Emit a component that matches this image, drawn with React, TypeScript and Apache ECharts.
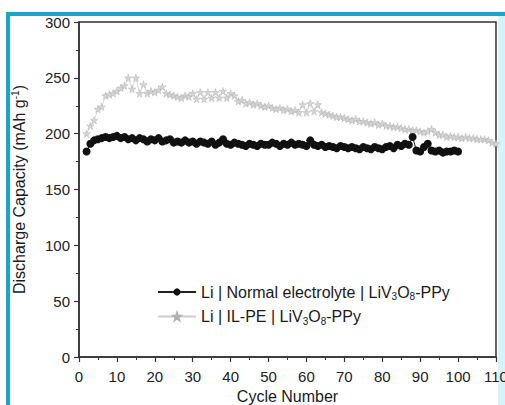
import React, { useEffect, useRef } from "react";
import * as echarts from "echarts";

const normalCycles: number[] = Array.from({ length: 99 }, (_, i) => i + 2);
const normalCapacity: number[] = [
  184, 191, 194, 195, 196, 197, 196, 197, 198, 196,
  197, 195, 196, 194, 196, 195, 193, 195, 194, 196,
  193, 194, 195, 192, 193, 192, 194, 192, 193, 191,
  193, 192, 191, 193, 190, 192, 195, 191, 190, 192,
  191, 190, 189, 191, 190, 189, 191, 190, 190, 192,
  191, 189, 191, 190, 192, 190, 191, 190, 189, 194,
  190, 189, 190, 188, 189, 188, 187, 189, 188, 187,
  188, 187, 186, 188, 187, 186, 188, 187, 186, 188,
  189, 187, 190, 189, 191, 190, 197, 185, 184, 188,
  191, 185, 184, 185, 183, 184, 184, 185, 184,
];

const ilCycles: number[] = Array.from({ length: 109 }, (_, i) => i + 2);
const ilCapacity: number[] = [
  200, 207, 212, 222, 224, 234, 235, 236, 238, 241,
  243, 250, 240, 250, 236, 244, 236, 238, 237, 239,
  242, 236, 235, 234, 233, 232, 234, 233, 236, 231,
  237, 231, 237, 232, 237, 232, 238, 232, 236, 234,
  229, 230, 227, 228, 226, 227, 225, 224, 225, 223,
  222, 223, 221, 222, 220, 221, 219, 226, 219, 227,
  220, 226, 219, 218, 217, 216, 215, 215, 214, 213,
  212, 213, 211, 211, 210, 209, 210, 208, 209, 207,
  207, 206, 206, 205, 204, 204, 203, 203, 202, 201,
  202, 204, 201, 199, 199, 197, 198, 197, 197, 196,
  197, 196, 196, 195, 195, 195, 194, 192, 191,
];

const xTicks = { min: 0, max: 110, interval: 10 };
const yTicks = { min: 0, max: 300, interval: 50 };

const STAR =
  "path://M50,0 L61,35 L98,35 L68,57 L79,91 L50,70 L21,91 L32,57 L2,35 L39,35 Z";

export default function App() {
  const ref = useRef<HTMLDivElement>(null);

  useEffect(() => {
    if (!ref.current) return;
    const chart = echarts.init(ref.current, undefined, { renderer: "svg" });
    const font = "Liberation Sans, Arial, sans-serif";
    const txt = "#1a1a1a";
    chart.setOption({
      animation: false,
      backgroundColor: "transparent",
      textStyle: { fontFamily: font },
      grid: {
        left: 79,
        right: 9,
        top: 22,
        bottom: 48,
        containLabel: false,
        outerBoundsMode: "none",
        show: true,
        borderColor: "#333",
        borderWidth: 1.5,
        backgroundColor: "transparent",
      },
      legend: {
        orient: "vertical",
        left: 157,
        top: 284,
        padding: 0,
        itemWidth: 38,
        itemHeight: 9,
        itemGap: 7,
        textStyle: {
          fontSize: 16,
          color: txt,
          fontFamily: font,
          rich: {
            n: { fontSize: 16, color: txt, fontFamily: font },
            sub: { fontSize: 10, color: txt, fontFamily: font, padding: [9, 0, 0, 0] },
          },
        },
        data: ["normal", "il"],
        formatter: (name: string) =>
          name === "normal"
            ? "{n|Li | Normal electrolyte | LiV}{sub|3}{n|O}{sub|8}{n|-PPy}"
            : "{n|Li | IL-PE | LiV}{sub|3}{n|O}{sub|8}{n|-PPy}",
      },
      xAxis: {
        type: "value",
        min: xTicks.min,
        max: xTicks.max,
        interval: xTicks.interval,
        name: "Cycle Number",
        nameLocation: "middle",
        nameGap: 31,
        nameTextStyle: { fontSize: 16, color: txt, fontFamily: font },
        axisLine: { show: true, lineStyle: { color: "#333", width: 1.5 } },
        axisTick: { show: true, inside: false, length: 5, lineStyle: { color: "#333", width: 1.2 } },
        minorTick: { show: true, splitNumber: 2, length: 3, lineStyle: { color: "#333", width: 1 } },
        splitLine: { show: false },
        axisLabel: { fontSize: 15, color: "#222", margin: 12, fontFamily: font },
      },
      yAxis: {
        type: "value",
        min: yTicks.min,
        max: yTicks.max,
        interval: yTicks.interval,
        name: "{a|Discharge Capacity (mAh g}{s|-1}{a|)}",
        nameLocation: "middle",
        nameGap: 50,
        nameTextStyle: {
          fontSize: 16,
          color: txt,
          fontFamily: font,
          rich: {
            a: { fontSize: 16, color: txt, fontFamily: font },
            s: { fontSize: 10, color: txt, fontFamily: font, padding: [0, 0, 9, 0] },
          },
        },
        axisLine: { show: true, lineStyle: { color: "#333", width: 1.5 } },
        axisTick: { show: true, inside: false, length: 5, lineStyle: { color: "#333", width: 1.2 } },
        minorTick: { show: true, splitNumber: 2, length: 3, lineStyle: { color: "#333", width: 1 } },
        splitLine: { show: false },
        axisLabel: { fontSize: 15, color: "#222", margin: 9, fontFamily: font },
      },
      series: [
        {
          name: "normal",
          type: "line",
          data: normalCycles.map((c, i) => [c, normalCapacity[i]]),
          symbol: "circle",
          symbolSize: 8,
          showAllSymbol: true,
          itemStyle: { color: "#111" },
          lineStyle: { color: "#222", width: 1 },
          z: 3,
        },
        {
          name: "il",
          type: "line",
          data: ilCycles.map((c, i) => [c, ilCapacity[i]]),
          symbol: STAR,
          symbolSize: 7.5,
          showAllSymbol: true,
          itemStyle: { color: "#d6d6d6", borderColor: "#b0b0b0", borderWidth: 0.5 },
          lineStyle: { color: "#cfcfcf", width: 0.8 },
          z: 2,
        },
      ],
    });
    return () => chart.dispose();
  }, []);

  return (
    <div
      style={{
        position: "fixed",
        left: 0,
        top: 0,
        width: 505,
        height: 405,
        overflow: "hidden",
        background: "#fff",
      }}
    >
      <div
        style={{
          position: "absolute",
          left: 6,
          top: 12,
          width: 600,
          height: 500,
          border: "4px solid #17a6c9",
          boxSizing: "border-box",
        }}
      />
      <div
        style={{
          position: "absolute",
          left: 498,
          top: 16,
          width: 20,
          height: 400,
          background: "#dcf0f7",
        }}
      />
      <div ref={ref} style={{ position: "absolute", left: 0, top: 0, width: 505, height: 405 }} />
    </div>
  );
}
